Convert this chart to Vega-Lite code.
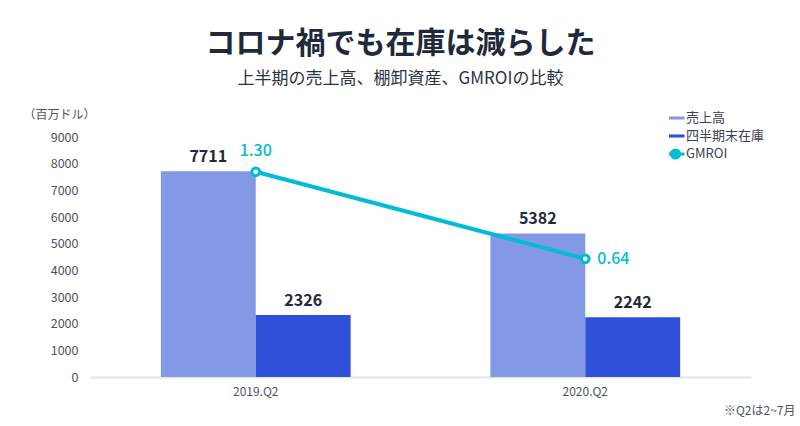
{
  "$schema": "https://vega.github.io/schema/vega-lite/v6.json",
  "width": 661,
  "height": 240,
  "autosize": {"type": "none"},
  "padding": {"left": 90, "top": 137, "right": 49, "bottom": 49},
  "background": "white",
  "config": {"font": "Noto Sans CJK JP", "view": {"stroke": null}},
  "title": {
    "text": "コロナ禍でも在庫は減らした",
    "subtitle": "上半期の売上高、棚卸資産、GMROIの比較",
    "fontSize": 30,
    "fontWeight": "bold",
    "color": "#1e2a3b",
    "subtitleFontSize": 17,
    "subtitleColor": "#2a3344",
    "subtitlePadding": 12,
    "anchor": "middle",
    "dx": -20,
    "offset": 21
  },
  "datasets": {
    "bars": [
      {"period": "2019.Q2", "series": "売上高", "value": 7711},
      {"period": "2019.Q2", "series": "四半期末在庫", "value": 2326},
      {"period": "2020.Q2", "series": "売上高", "value": 5382},
      {"period": "2020.Q2", "series": "四半期末在庫", "value": 2242}
    ],
    "gmroi": [
      {"period": "2019.Q2", "series": "GMROI", "gmroi": 1.30, "label": "1.30"},
      {"period": "2020.Q2", "series": "GMROI", "gmroi": 0.64, "label": "0.64"}
    ]
  },
  "layer": [
    {
      "data": {"name": "bars"},
      "encoding": {
        "x": {
          "field": "period",
          "type": "nominal",
          "scale": {"paddingInner": 0.424, "paddingOuter": 0.215},
          "axis": {
            "labelAngle": 0,
            "labelFontSize": 12,
            "labelColor": "#4b5263",
            "labelPadding": 9,
            "ticks": false,
            "domainColor": "#e1e5ec",
            "domainWidth": 2,
            "title": "※Q2は2~7月",
            "titleX": 705,
            "titleY": 33,
            "titleAlign": "right",
            "titleBaseline": "middle",
            "titleFontSize": 12,
            "titleFontWeight": "normal",
            "titleColor": "#4b5263"
          }
        },
        "xOffset": {
          "field": "series",
          "type": "nominal",
          "scale": {"domain": ["売上高", "四半期末在庫"], "paddingInner": 0, "paddingOuter": 0}
        },
        "y": {
          "field": "value",
          "type": "quantitative",
          "scale": {"domain": [0, 9000]},
          "axis": {
            "values": [0, 1000, 2000, 3000, 4000, 5000, 6000, 7000, 8000, 9000],
            "format": "d",
            "grid": false,
            "domain": false,
            "ticks": false,
            "labelPadding": 12,
            "labelFontSize": 12.5,
            "labelColor": "#4b5263",
            "title": "（百万ドル）",
            "titleAngle": 0,
            "titleX": -31,
            "titleY": -23,
            "titleAlign": "center",
            "titleBaseline": "middle",
            "titleFontSize": 12,
            "titleFontWeight": "normal",
            "titleColor": "#4b5263"
          }
        }
      },
      "layer": [
        {
          "mark": {"type": "bar"},
          "encoding": {
            "color": {
              "field": "series",
              "type": "nominal",
              "scale": {
                "domain": ["売上高", "四半期末在庫", "GMROI"],
                "range": ["#8399e6", "#2f50d9", "#00bcd4"]
              },
              "legend": {
                "title": null,
                "orient": "none",
                "legendX": 579,
                "legendY": -28,
                "padding": 0,
                "labelFontSize": 13,
                "labelColor": "#3b4252",
                "labelOffset": 4,
                "rowPadding": 0,
                "clipHeight": 18,
                "symbolSize": 324,
                "encode": {
                  "symbols": {
                    "update": {
                      "shape": {"signal": "datum.value === 'GMROI' ? 'M-1,0H-0.45M0.45,0H1M-0.45,0A0.45,0.45 0 1,1 0.45,0A0.45,0.45 0 1,1 -0.45,0Z' : 'M-1,-0.17H1V0.17H-1Z'"},
                      "fill": {"signal": "datum.value === 'GMROI' ? '#ffffff' : (datum.value === '売上高' ? '#8399e6' : '#2f50d9')"},
                      "stroke": {"signal": "datum.value === 'GMROI' ? '#00bcd4' : 'transparent'"},
                      "strokeWidth": {"signal": "datum.value === 'GMROI' ? 3 : 0"},
                      "opacity": {"value": 1},
                      "fillOpacity": {"value": 1}
                    }
                  }
                }
              }
            }
          }
        },
        {
          "mark": {"type": "text", "baseline": "alphabetic", "dy": -9, "fontSize": 16, "fontWeight": "bold", "color": "#1e2a3b"},
          "encoding": {"text": {"field": "value", "type": "quantitative", "format": "d"}}
        }
      ]
    },
    {
      "data": {"name": "gmroi"},
      "encoding": {
        "x": {"field": "period", "type": "nominal"},
        "y": {
          "field": "gmroi",
          "type": "quantitative",
          "scale": {"domain": [-0.257, 1.564], "nice": false, "zero": false},
          "axis": null
        }
      },
      "layer": [
        {
          "mark": {"type": "line", "strokeWidth": 4},
          "encoding": {"color": {"field": "series", "type": "nominal"}}
        },
        {
          "mark": {"type": "point", "filled": true, "fill": "#ffffff", "stroke": "#00bcd4", "strokeWidth": 3, "size": 60, "opacity": 1}
        },
        {
          "transform": [{"filter": "datum.period == '2019.Q2'"}],
          "mark": {"type": "text", "align": "center", "baseline": "alphabetic", "dy": -16, "fontSize": 16, "fontWeight": 500, "color": "#00bcd4"},
          "encoding": {"text": {"field": "label", "type": "nominal"}}
        },
        {
          "transform": [{"filter": "datum.period == '2020.Q2'"}],
          "mark": {"type": "text", "align": "left", "baseline": "middle", "dx": 12, "fontSize": 16, "fontWeight": 500, "color": "#00bcd4"},
          "encoding": {"text": {"field": "label", "type": "nominal"}}
        }
      ]
    }
  ],
  "resolve": {"scale": {"y": "independent"}}
}
